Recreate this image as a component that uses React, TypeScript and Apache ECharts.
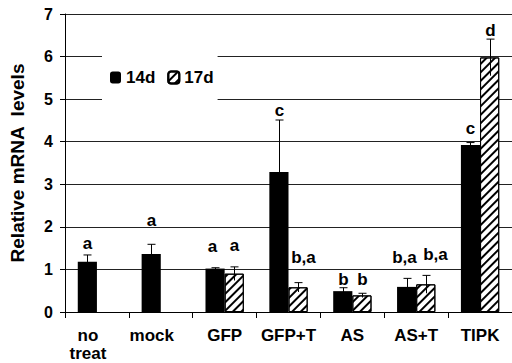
import React, { useEffect, useRef } from "react";
import * as echarts from "echarts";

const categories = ["no\ntreat", "mock", "GFP", "GFP+T", "AS", "AS+T", "TIPK"];
const values14d = [1.18, 1.36, 1.02, 3.29, 0.49, 0.59, 3.92];
const errors14d = [0.16, 0.23, 0.02, 1.22, 0.08, 0.2, 0.06];
const values17d: (number | null)[] = [null, null, 0.9, 0.58, 0.39, 0.65, 5.98];
const errors17d: (number | null)[] = [null, null, 0.16, 0.11, 0.05, 0.21, 0.43];
const letters14d = ["a", "a", "a", "c", "b", "b,a", "c"];
const letters17d = ["", "", "a", "b,a", "b", "b,a", "d"];
const letterLevel14d = [1.62, 2.16, 1.53, 4.74, 0.77, 1.29, 4.32];
const letterLevel17d: (number | null)[] = [null, null, 1.57, 1.29, 0.77, 1.34, 6.62];
const yTicks = [0, 1, 2, 3, 4, 5, 6, 7];

const FONT = "'Liberation Sans', Arial, Helvetica, sans-serif";
const BAR_FRACTION = 0.3;
// small horizontal nudges (px) of the significance letters, as in the figure
const letterNudge14: Record<number, number> = { 2: -3, 5: -3 };
const letterNudge17: Record<number, number> = { 3: 5, 5: 9 };

function makeErrorSeries(
  name: string,
  vals: (number | null)[],
  errs: (number | null)[],
  letters: string[],
  levels: (number | null)[],
  side: number,
  nudge: Record<number, number>
) {
  const data: any[] = [];
  vals.forEach((v, i) => {
    if (v == null) return;
    data.push([i, v, errs[i] ?? 0, levels[i] ?? v, letters[i]]);
  });
  return {
    type: "custom",
    name: name + "-err",
    data,
    z: 5,
    encode: { x: 0, y: 1 },
    renderItem: (params: any, api: any) => {
      const idx = api.value(0);
      const mean = api.value(1);
      const err = api.value(2);
      const lvl = api.value(3);
      const letter = data[params.dataIndex][4];
      const catW = api.size([1, 0])[0];
      const bw = catW * BAR_FRACTION;
      const c = api.coord([idx, mean]);
      const x = Math.round(c[0] + side * bw / 2) + 0.5;
      const top = api.coord([idx, mean + err])[1];
      const bot = api.coord([idx, Math.max(0, mean - err)])[1];
      const ly = api.coord([idx, lvl])[1];
      return {
        type: "group",
        children: [
          {
            type: "line",
            shape: { x1: x, y1: top, x2: x, y2: bot },
            style: { stroke: "#000", lineWidth: 1 },
          },
          {
            type: "line",
            shape: { x1: x - 4, y1: top, x2: x + 4, y2: top },
            style: { stroke: "#000", lineWidth: 1 },
          },
          {
            type: "text",
            x: x + (nudge[idx] || 0),
            y: ly,
            style: {
              text: letter,
              fill: "#000",
              font: `bold 17px ${FONT}`,
              align: "center",
              verticalAlign: "middle",
            },
          },
        ],
      };
    },
  };
}

export default function App() {
  const ref = useRef<HTMLDivElement>(null);
  useEffect(() => {
    if (!ref.current) return;
    const chart = echarts.init(ref.current, undefined, { renderer: "svg" });
    const hatch = {
      symbol: "rect",
      color: "#000",
      backgroundColor: "#fff",
      dashArrayX: [1, 0],
      dashArrayY: [1.6, 3.4],
      rotation: -Math.PI / 4,
      symbolSize: 1,
    };
    chart.setOption({
      animation: false,
      textStyle: { fontFamily: FONT },
      grid: { left: 59, top: 14, width: 455, height: 298, containLabel: false },
      legend: {
        left: 102,
        top: 45,
        padding: [24, 4, 24, 8],
        backgroundColor: "#fff",
        itemWidth: 11,
        itemHeight: 12,
        itemGap: 12,
        textStyle: { fontFamily: FONT, fontWeight: "bold", fontSize: 17, color: "#000" },
        data: ["14d", "17d"],
      },
      xAxis: {
        type: "category",
        data: categories.map((c, i) =>
          i < 2 ? { value: c, textStyle: { padding: [0, 18, 0, 0] } } : c
        ),
        boundaryGap: true,
        axisLine: { lineStyle: { color: "#000", width: 1 } },
        axisTick: { show: true, length: 6, lineStyle: { color: "#000" }, interval: 0 },
        axisLabel: {
          interval: 0,
          color: "#000",
          fontFamily: FONT,
          fontWeight: "bold",
          fontSize: 17,
          lineHeight: 18,
          margin: 14,
        },
      },
      yAxis: {
        type: "value",
        min: 0,
        max: 7,
        interval: 1,
        name: "Relative mRNA  levels",
        nameLocation: "middle",
        nameGap: 38,
        nameTextStyle: { fontFamily: FONT, fontWeight: "bold", fontSize: 19, color: "#000" },
        axisLine: { show: true, lineStyle: { color: "#000", width: 1 } },
        axisTick: { show: true, length: 5, lineStyle: { color: "#000" } },
        axisLabel: {
          color: "#000",
          fontFamily: FONT,
          fontWeight: "bold",
          fontSize: 16,
          margin: 12,
          formatter: (v: number) => (yTicks.includes(v) ? String(v) : ""),
        },
        splitLine: { show: true, lineStyle: { color: "#222", width: 1 } },
      },
      series: [
        {
          type: "bar",
          name: "14d",
          data: values14d,
          barWidth: "30%",
          barGap: "0%",
          itemStyle: { color: "#000" },
        },
        {
          type: "bar",
          name: "17d",
          data: values17d.map((v) => (v == null ? "-" : v)),
          barWidth: "30%",
          barGap: "0%",
          itemStyle: { color: "#fff", borderColor: "#000", borderWidth: 1, decal: hatch },
        },
        makeErrorSeries("14d", values14d, errors14d, letters14d, letterLevel14d, -1, letterNudge14),
        makeErrorSeries("17d", values17d, errors17d, letters17d, letterLevel17d, 1, letterNudge17),
      ],
    });
    return () => chart.dispose();
  }, []);
  return (
    <div
      ref={ref}
      style={{ position: "absolute", left: 0, top: 0, width: 512, height: 363 }}
    />
  );
}
